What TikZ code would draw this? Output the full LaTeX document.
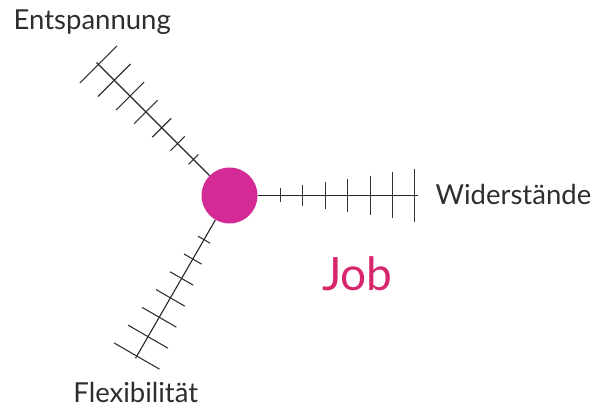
\documentclass[tikz,border=0pt]{standalone}
\usepackage{fontspec}
\setmainfont{Lato}
\usetikzlibrary{positioning}

\definecolor{jobpink}{HTML}{D42A96}
\definecolor{jobred}{HTML}{D8266C}
\definecolor{labelgray}{HTML}{2E2E2E}

\tikzset{
  arm line/.style={line width=1.1pt, black!85},
  scale tick/.style={line width=1.1pt, black!80},
  label text/.style={font=\fontsize{27.5}{32}\selectfont, text=labelgray, inner sep=0pt, anchor=base},
}

\begin{document}
\begin{tikzpicture}[x=1pt,y=1pt]
  \useasboundingbox (0,0) rectangle (597,411);
  \node[circle, fill=jobpink, minimum size=56pt, inner sep=0pt] (job) at (229.5,215.5) {};
  % three arms, ticks get longer further out
  \foreach \ang/\nm in {0/wid,135/ent,240/flex} {
    \coordinate (\nm end) at ([shift={(\ang:188)}]job.center);
    \draw[arm line] (job) -- (\nm end);
    \foreach \i [evaluate=\i as \d using 51+22.4*\i,
                 evaluate=\i as \h using 7+3.2*\i] in {0,...,6}
      \draw[scale tick] ([shift={(\ang:\d)}]job.center) ++(\ang+90:\h) -- ++(\ang-90:2*\h);
  }
  \node[label text] (entspannung) at (92.2,381.7) {Entspannung};
  \node[label text, anchor=base west] (widerstaende) at (435.5,206.7) {Widerstände};
  \node[label text] (flexibilitaet) at (135.8,8.7) {Flexibilität};
  \node[font=\fontsize{46}{54}\selectfont, text=jobred, inner sep=0pt, anchor=base] (jobtext) at (357.5,120.3) {Job};
\end{tikzpicture}
\end{document}
